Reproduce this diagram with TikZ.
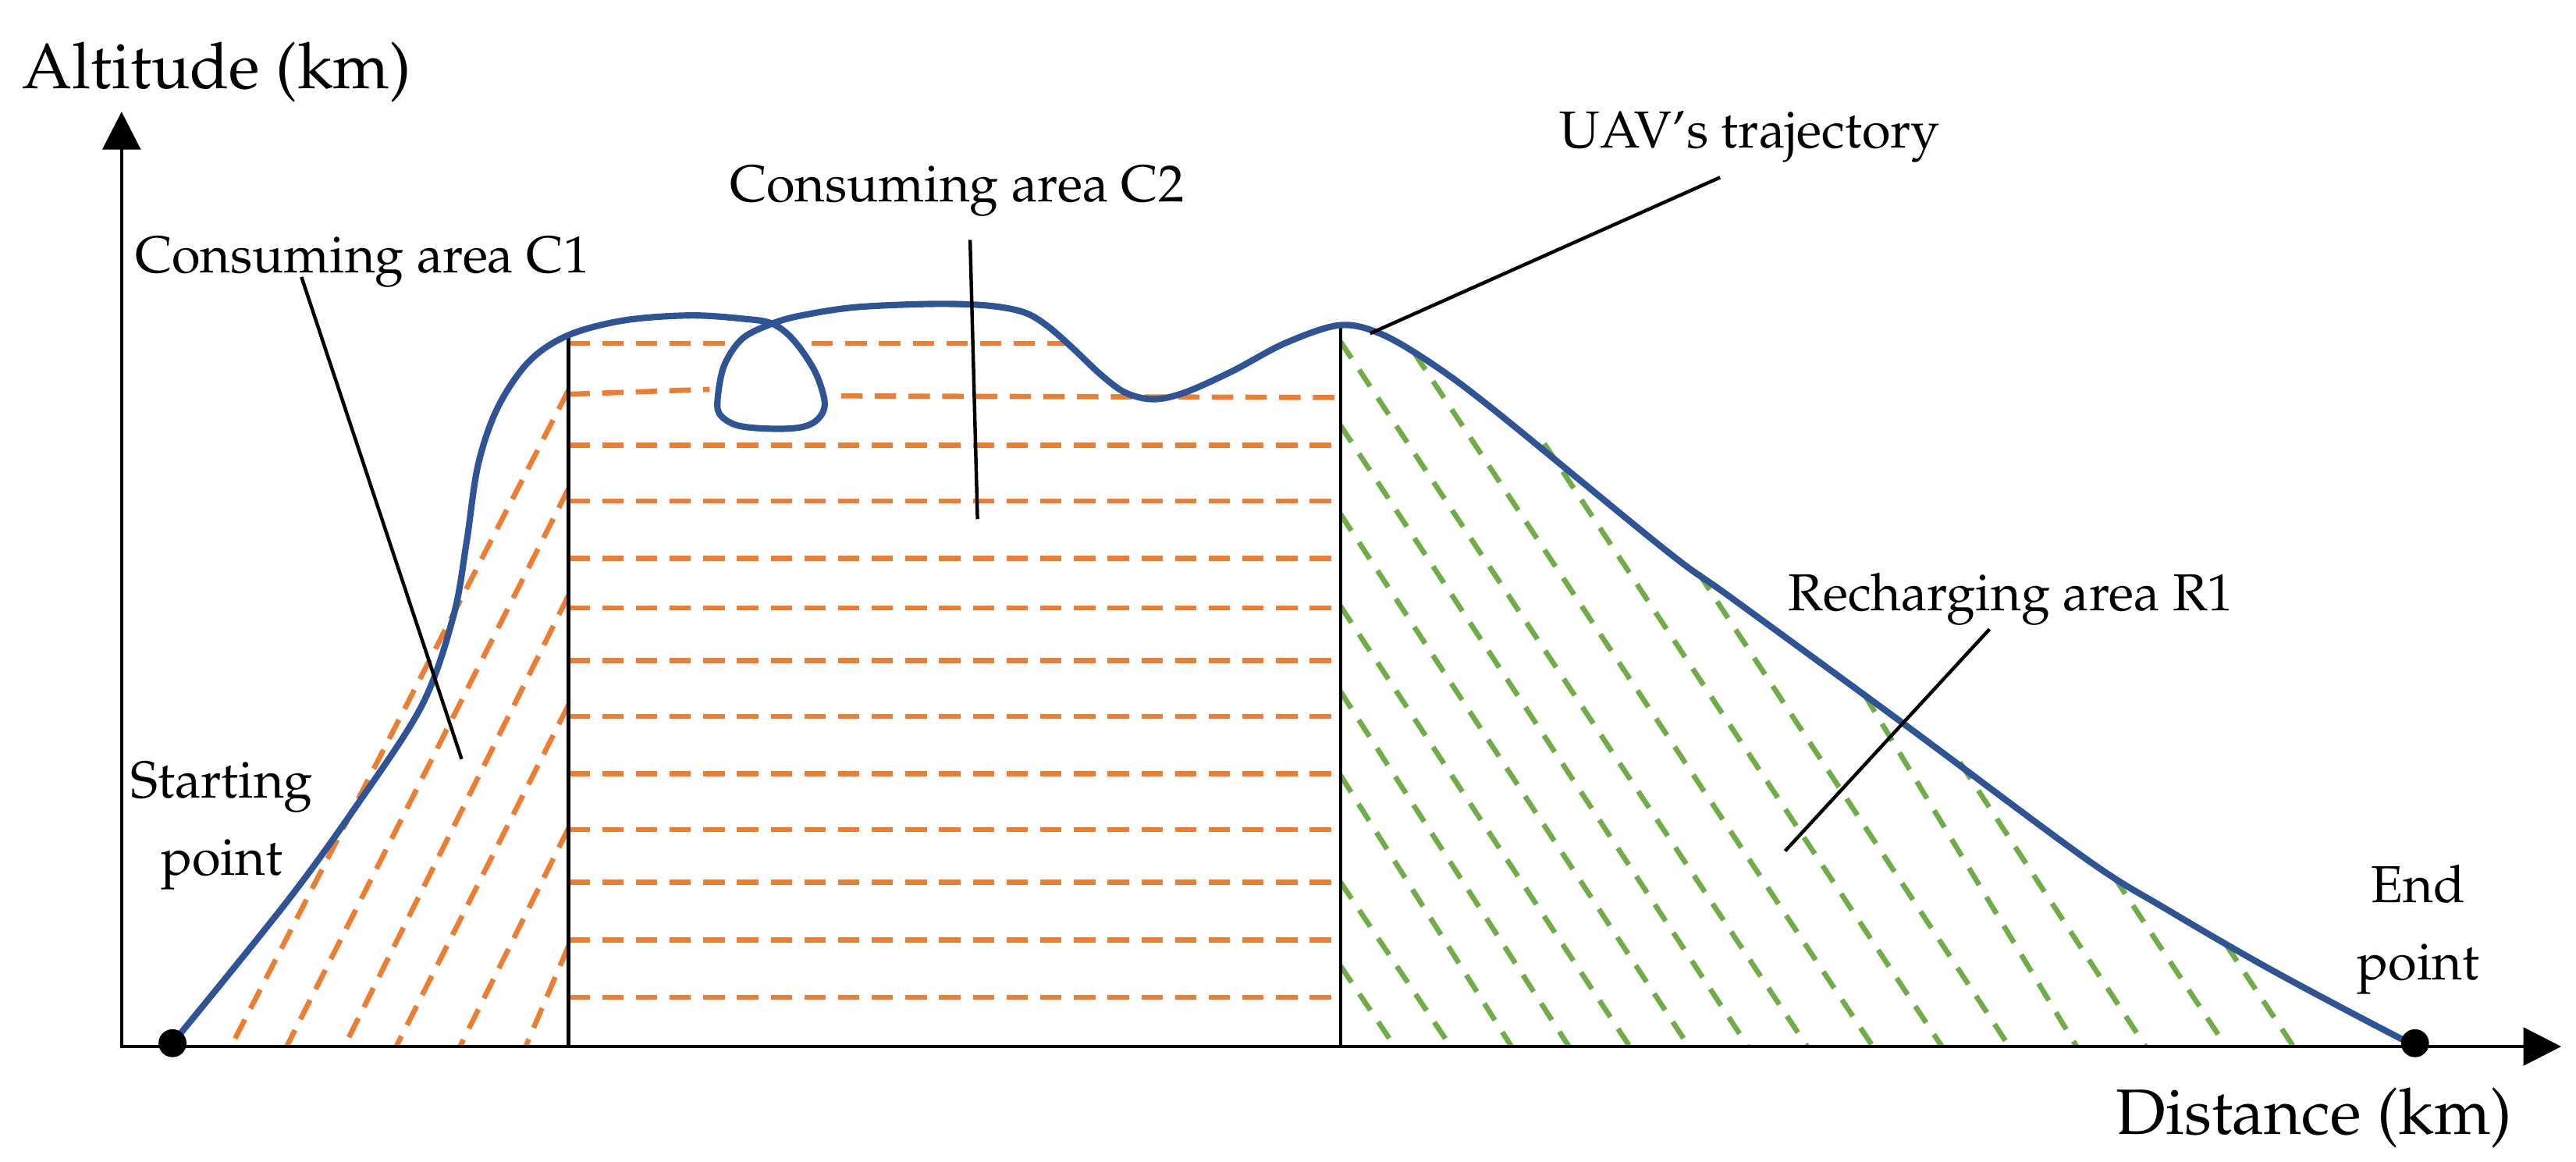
\documentclass[tikz,border=0pt]{standalone}
\usepackage[T1]{fontenc}
\usepackage{mathpazo}
\usepackage{xcolor}
\usepackage{tikz}
\usetikzlibrary{arrows.meta}

\definecolor{trajblue}{RGB}{47,84,150}
\definecolor{consorange}{RGB}{237,125,49}
\definecolor{rechgreen}{RGB}{112,173,71}

\begin{document}
\begin{tikzpicture}[x=0.01cm, y=-0.01cm, >={Triangle[length=2.3mm, width=2.3mm]},
		axisline/.style={line width=0.6pt, <->},
		divider/.style={line width=0.6pt},
		leader/.style={line width=0.6pt},
		traj/.style={line width=1.1pt, trajblue},
		hatchc/.style={line width=0.9pt, consorange, dash pattern=on 1.3mm off 0.75mm},
		hatchr/.style={line width=0.9pt, rechgreen, dash pattern=on 1.2mm off 0.85mm},
		lbl/.style={font=\fontsize{9}{13.3}\selectfont, inner sep=0pt, anchor=base, align=center},
		axlbl/.style={font=\fontsize{11.1}{13}\selectfont, inner sep=0pt, anchor=base},
		dot/.style={circle, fill=black, inner sep=0pt, minimum size=1.7mm}]
		\useasboundingbox (0,0) rectangle (1568,707);

		% consuming area C2
		\draw[hatchc] (346,209) -- (446,209);
		\draw[hatchc] (494,209) -- (652,209);
		\draw[hatchc] (346,240) -- (432,237);
		\draw[hatchc] (512,241) -- (816,242);
		\draw[hatchc] (346,271) -- (816,271);
		\draw[hatchc] (346,305) -- (816,305);
		\draw[hatchc] (346,340) -- (816,340);
		\draw[hatchc] (346,370) -- (816,370);
		\draw[hatchc] (346,402) -- (816,402);
		\draw[hatchc] (346,436) -- (816,436);
		\draw[hatchc] (346,471) -- (816,471);
		\draw[hatchc] (346,505) -- (816,505);
		\draw[hatchc] (346,537) -- (816,537);
		\draw[hatchc] (346,572) -- (816,572);
		\draw[hatchc] (346,607) -- (816,607);

		% consuming area C1
		\draw[hatchc] (346,237.5) -- (140.6,637);
		\draw[hatchc] (346,297.5) -- (174.5,637);
		\draw[hatchc] (346,362.6) -- (209.6,637);
		\draw[hatchc] (346,429.2) -- (241.2,637);
		\draw[hatchc] (346,504.2) -- (280,637);
		\draw[hatchc] (346,575.9) -- (320,637);

		% recharging area R1
		\draw[hatchr] (816,588) -- (849,637);
		\draw[hatchr] (816,537) -- (883,637);
		\draw[hatchr] (816,472) -- (920,637);
		\draw[hatchr] (816,421) -- (955,637);
		\draw[hatchr] (816,369) -- (992,637);
		\draw[hatchr] (816,313) -- (1028,637);
		\draw[hatchr] (816,259) -- (1064,637);
		\draw[hatchr] (816,208) -- (1100,637);
		\draw[hatchr] (861,215) -- (1140,637);
		\draw[hatchr] (940,270) -- (1182,637);
		\draw[hatchr] (1034,349) -- (1223,637);
		\draw[hatchr] (1135,423) -- (1264,637);
		\draw[hatchr] (1193,464) -- (1306,637);
		\draw[hatchr] (1287,534) -- (1355,637);
		\draw[hatchr] (1355,575) -- (1396,637);

		\draw[divider] (346,203) -- (346,637);
		\draw[divider] (816,197) -- (816,637);

		% trajectory
		\draw[traj] plot[smooth, tension=0.55] coordinates {(105,635) (174.5,549) (218,489) (257,429) (276,375) (284,330) (291,283) (303,248) (322,220) (346,204) (380,195) (420,192) (452,194) (470,197) (483,207) (496,226) (502,245) (498,255) (488,260) (470,261) (449,259) (438,252) (437,241) (441,222) (452,206) (470,197) (488,192) (521,187) (568,185) (601,186) (623,190) (637,198) (652,211) (670,228) (685,239) (702,243) (721,239) (750,226) (782,209) (815,198) (840,203) (871,221) (910,250) (1014,335) (1054,364) (1158,440) (1270,523) (1318,553) (1383,590.6) (1461,632) (1470,635)};

		\coordinate (origin) at (74,637);
		\coordinate (ytip) at (74,68);
		\coordinate (xtip) at (1559,637);
		\draw[axisline] (ytip) -- (origin) -- (xtip);

		\node[dot] (startpt) at (105,635) {};
		\node[dot] (endpt) at (1470,635) {};

		\node[axlbl] (altlabel) at (132,54) {Altitude (km)};
		\node[axlbl] (distlabel) at (1408.6,690.4) {Distance (km)};
		\node[lbl] (c1label) at (220.5,166) {Consuming area C1};
		\node[lbl] (c2label) at (582.5,122.7) {Consuming area C2};
		\node[lbl] (uavlabel) at (1065,90) {UAV's trajectory};
		\node[lbl] (r1label) at (1224,371.5) {Recharging area R1};
		\node[lbl] (startlabel) at (135,532.6) {Starting\\point};
		\node[lbl] (endlabel) at (1472,596.2) {End\\point};

		% leaders
		\coordinate (c1foot) at (183.5,168.6);
		\coordinate (c1tip) at (281,462);
		\coordinate (c2foot) at (590.5,146);
		\coordinate (c2tip) at (595,316);
		\coordinate (uavfoot) at (1047,108);
		\coordinate (uavtip) at (834,203);
		\coordinate (r1foot) at (1211,383);
		\coordinate (r1tip) at (1086.6,518);
		\draw[leader] (c1foot) -- (c1tip);
		\draw[leader] (c2foot) -- (c2tip);
		\draw[leader] (uavfoot) -- (uavtip);
		\draw[leader] (r1foot) -- (r1tip);
	\end{tikzpicture}
\end{document}
